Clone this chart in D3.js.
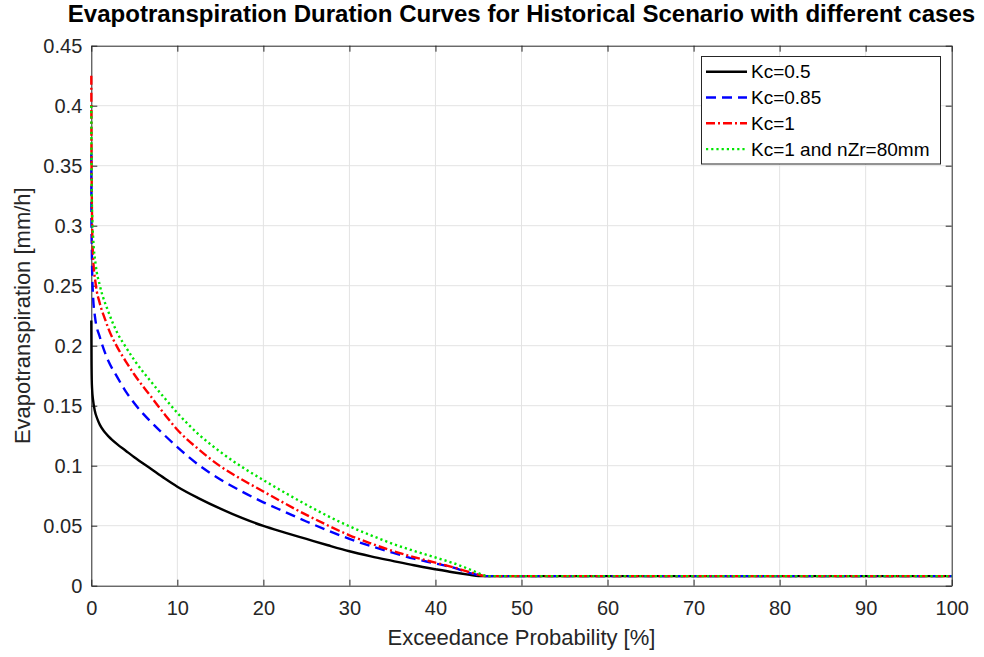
<!DOCTYPE html>
<html>
<head>
<meta charset="utf-8">
<script src="https://cdnjs.cloudflare.com/ajax/libs/d3/7.8.5/d3.min.js"></script>
<style>
  body { margin: 0; background: #fff; }
  text { font-family: "Liberation Sans", Arial, Helvetica, sans-serif; }
</style>
</head>
<body>
<svg id="chart" width="984" height="657"></svg>
<script>
// exceedance probability [%] and ET [mm/h]
var pBlack = [0, 0.02, 0.05, 0.1, 0.2, 0.4, 0.7, 1, 1.5, 2, 3, 4, 5, 7, 8.5, 10, 12.5, 15, 17.5, 20, 22.5, 25, 27.5, 30, 32.5, 35, 37.5, 40, 42, 44, 45, 100];
var etBlack = [0.221, 0.19, 0.172, 0.163, 0.155, 0.146, 0.139, 0.134, 0.1285, 0.1245, 0.118, 0.1125, 0.107, 0.097, 0.0895, 0.0825, 0.0728, 0.0642, 0.0565, 0.0498, 0.0443, 0.039, 0.0337, 0.0287, 0.0245, 0.0207, 0.017, 0.0137, 0.0112, 0.009, 0.008, 0.008];

var pBlue = [0, 0.02, 0.05, 0.1, 0.2, 0.43, 1, 1.6, 2, 3, 4, 5, 7, 8.5, 10, 12.5, 15, 17.5, 20, 22.5, 25, 27.5, 30, 32.5, 35, 37.5, 40, 42, 44, 45, 46, 100];
var etBlue = [0.36, 0.30, 0.285, 0.262, 0.242, 0.224, 0.207, 0.194, 0.187, 0.174, 0.162, 0.152, 0.136, 0.1255, 0.1155, 0.1005, 0.0885, 0.0785, 0.0695, 0.0615, 0.0535, 0.046, 0.039, 0.033, 0.0275, 0.0225, 0.0185, 0.0152, 0.0105, 0.0088, 0.008, 0.008];

var pRed = [0, 0.02, 0.05, 0.1, 0.2, 0.5, 1, 1.6, 2, 3, 4, 5, 7, 8.5, 10, 12.5, 15, 17.5, 20, 22.5, 25, 27.5, 30, 32.5, 35, 37.5, 40, 42, 44, 45, 46, 100];
var etRed = [0.425, 0.36, 0.33, 0.30, 0.275, 0.252, 0.235, 0.222, 0.214, 0.199, 0.187, 0.176, 0.157, 0.143, 0.130, 0.1135, 0.0995, 0.0885, 0.0785, 0.0685, 0.059, 0.0502, 0.042, 0.0352, 0.029, 0.0238, 0.0192, 0.0155, 0.0112, 0.0092, 0.008, 0.008];

var pGreen = [0, 0.02, 0.05, 0.1, 0.23, 0.5, 1, 2, 3, 4, 5, 7, 8.5, 10, 12.5, 15, 17.5, 20, 22.5, 25, 27.5, 30, 32.5, 35, 37.5, 40, 42, 44, 45, 46, 100];
var etGreen = [0.40, 0.36, 0.33, 0.31, 0.288, 0.268, 0.25, 0.228, 0.211, 0.199, 0.188, 0.1695, 0.1565, 0.144, 0.126, 0.1115, 0.099, 0.088, 0.0775, 0.0675, 0.058, 0.0495, 0.042, 0.035, 0.029, 0.0235, 0.019, 0.0135, 0.0105, 0.008, 0.008];

var legendLabels = ["Kc=0.5", "Kc=0.85", "Kc=1", "Kc=1 and nZr=80mm"];
var xTicks = [0, 10, 20, 30, 40, 50, 60, 70, 80, 90, 100];
var yTicks = [0, 0.05, 0.1, 0.15, 0.2, 0.25, 0.3, 0.35, 0.4, 0.45];

var series = [
  {name: legendLabels[0], p: pBlack, et: etBlack, color: "#000000", dash: null},
  {name: legendLabels[1], p: pBlue, et: etBlue, color: "#0000ff", dash: "10,6"},
  {name: legendLabels[2], p: pRed, et: etRed, color: "#ff0000", dash: "9,3,2,3"},
  {name: legendLabels[3], p: pGreen, et: etGreen, color: "#00e600", dash: "2.2,3"}
];

drawChart();

function drawChart(){
  var svg = d3.select("#chart");
  var left = 91.3, right = 951.7, plotTop = 45.7, plotBottom = 585.7;

  var x = d3.scaleLinear().domain([0, 100]).range([left, right]);
  var y = d3.scaleLinear().domain([0, 0.45]).range([plotBottom, plotTop]);

  var axisColor = "#262626";

  // grid
  svg.append("g").selectAll("line").data(xTicks.slice(1, -1)).enter().append("line")
    .attr("x1", function(d){ return x(d); }).attr("x2", function(d){ return x(d); })
    .attr("y1", plotTop).attr("y2", plotBottom)
    .attr("stroke", "#e3e3e3").attr("stroke-width", 1);
  svg.append("g").selectAll("line").data(yTicks.slice(1, -1)).enter().append("line")
    .attr("x1", left).attr("x2", right)
    .attr("y1", function(d){ return y(d); }).attr("y2", function(d){ return y(d); })
    .attr("stroke", "#e3e3e3").attr("stroke-width", 1);

  // axes (ticks inward, box on)
  var fmt = function(d){ return d3.format("~g")(d); };
  var xAxis = svg.append("g").attr("transform", "translate(0," + plotBottom + ")")
    .call(d3.axisBottom(x).tickValues(xTicks).tickFormat(fmt).tickSizeInner(-6).tickSizeOuter(0).tickPadding(15));
  var xTop = svg.append("g").attr("transform", "translate(0," + plotTop + ")")
    .call(d3.axisTop(x).tickValues(xTicks).tickFormat("").tickSizeInner(-6).tickSizeOuter(0));
  var yAxis = svg.append("g").attr("transform", "translate(" + left + ",0)")
    .call(d3.axisLeft(y).tickValues(yTicks).tickFormat(fmt).tickSizeInner(-6).tickSizeOuter(0).tickPadding(15));
  var yRight = svg.append("g").attr("transform", "translate(" + right + ",0)")
    .call(d3.axisRight(y).tickValues(yTicks).tickFormat("").tickSizeInner(-6).tickSizeOuter(0));

  [xAxis, xTop, yAxis, yRight].forEach(function(g){
    g.select(".domain").attr("stroke", axisColor).attr("stroke-width", 1);
    g.selectAll(".tick line").attr("stroke", axisColor);
    g.selectAll("text").attr("fill", axisColor).style("font-size", "20px")
      .style("font-family", "'Liberation Sans', Arial, sans-serif");
  });
  xAxis.selectAll("text").attr("y", 15).attr("dy", "0.71em");
  yAxis.selectAll("text").attr("x", -9).attr("dy", "0.35em");

  // curves
  var line = d3.line()
    .x(function(d){ return x(d[0]); })
    .y(function(d){ return y(d[1]); })
    .curve(d3.curveMonotoneX);

  series.forEach(function(s){
    var pts = s.p.map(function(v, i){ return [v, s.et[i]]; });
    svg.append("path")
      .datum(pts)
      .attr("d", line)
      .attr("fill", "none")
      .attr("stroke", s.color)
      .attr("stroke-width", 2.4)
      .attr("stroke-dasharray", s.dash);
  });

  // title
  var title = svg.append("text")
    .attr("x", (left + right) / 2).attr("y", 22)
    .attr("text-anchor", "middle")
    .style("font-weight", "bold").style("font-size", "20px")
    .attr("fill", "#000")
    .text("Evapotranspiration Duration Curves for Historical Scenario with different cases");
  var tw = title.node().getComputedTextLength();
  title.style("font-size", (20 * 908 / tw) + "px");

  // axis labels
  svg.append("text")
    .attr("x", (left + right) / 2).attr("y", 645)
    .attr("text-anchor", "middle")
    .attr("fill", axisColor).style("font-size", "22px")
    .text("Exceedance Probability [%]");
  svg.append("text")
    .attr("transform", "translate(30," + ((plotTop + plotBottom) / 2) + ") rotate(-90)")
    .attr("text-anchor", "middle")
    .attr("fill", axisColor).style("font-size", "22px")
    .text("Evapotranspiration [mm/h]");

  // legend
  var lg = svg.append("g");
  lg.append("rect")
    .attr("x", 701.5).attr("y", 56.5).attr("width", 239).attr("height", 107.5)
    .attr("fill", "#fff").attr("stroke", axisColor).attr("stroke-width", 1);
  series.forEach(function(s, i){
    var cy = 71.7 + i * 25.8;
    lg.append("line")
      .attr("x1", 706).attr("x2", 747).attr("y1", cy).attr("y2", cy)
      .attr("stroke", s.color).attr("stroke-width", 2.4)
      .attr("stroke-dasharray", s.dash);
    lg.append("text")
      .attr("x", 751).attr("y", cy).attr("dy", "0.35em")
      .attr("fill", "#000").style("font-size", "19px")
      .text(s.name);
  });
}
</script>
</body>
</html>
